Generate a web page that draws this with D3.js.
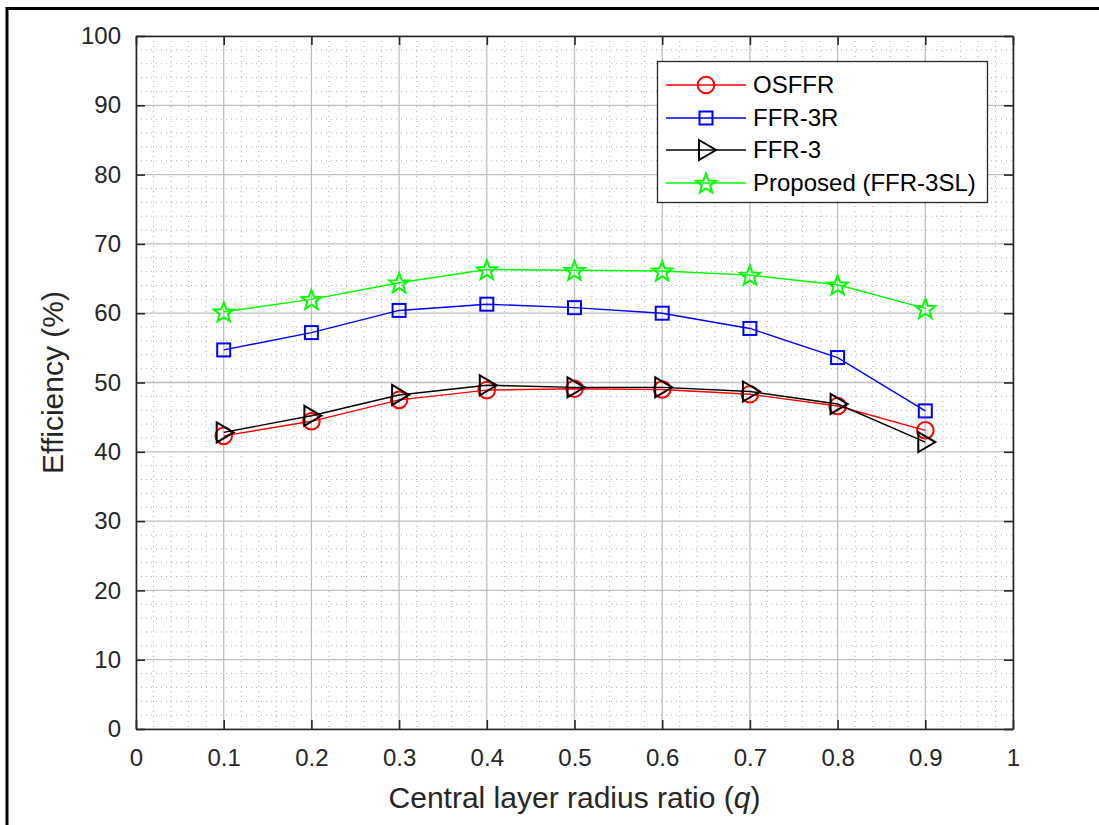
<!DOCTYPE html>
<html><head><meta charset="utf-8">
<script src="https://cdn.jsdelivr.net/npm/d3@7"></script>
<style>
html,body{margin:0;padding:0;background:#fff;}
svg{display:block;font-family:"Liberation Sans",Arial,Helvetica,sans-serif;}
</style></head>
<body>
<script>
const qValues = [0.1,0.2,0.3,0.4,0.5,0.6,0.7,0.8,0.9];
const osffr    = [42.3,44.4,47.5,48.9,49.1,49.0,48.3,46.6,43.1];
const ffr3r    = [54.7,57.2,60.4,61.3,60.8,60.0,57.8,53.6,45.9];
const ffr3     = [42.8,45.2,48.2,49.6,49.3,49.3,48.7,46.9,41.4];
const proposed = [60.2,62.0,64.4,66.3,66.2,66.1,65.5,64.1,60.7];
const seriesNames = ["OSFFR","FFR-3R","FFR-3","Proposed (FFR-3SL)"];
const xTicks = [0,0.1,0.2,0.3,0.4,0.5,0.6,0.7,0.8,0.9,1];
const yTicks = [0,10,20,30,40,50,60,70,80,90,100];

const W=1099,H=825;
const L=136,R=1013,T=36,B=729;
const svg=d3.select("body").append("svg").attr("width",W).attr("height",H);

const x=d3.scaleLinear().domain([0,1]).range([L,R]);
const y=d3.scaleLinear().domain([0,100]).range([B,T]);

// figure frame (top & left)
svg.append("line").attr("x1",6).attr("x2",W).attr("y1",8.5).attr("y2",8.5).attr("stroke","#000").attr("stroke-width",3);
svg.append("line").attr("x1",7).attr("x2",7).attr("y1",7).attr("y2",H).attr("stroke","#000").attr("stroke-width",3);

// minor grid
const g=svg.append("g");
const xMinor=d3.range(0,1.0001,0.02).filter(v=>Math.abs(v*10-Math.round(v*10))>1e-6);
const yMinor=d3.range(0,100.001,2).filter(v=>v%10!==0);
g.selectAll(".mx").data(xMinor).join("line").attr("x1",d=>x(d)).attr("x2",d=>x(d)).attr("y1",T).attr("y2",B)
  .attr("stroke","#b0b0b0").attr("stroke-width",1).attr("stroke-dasharray","1,4");
g.selectAll(".my").data(yMinor).join("line").attr("y1",d=>y(d)).attr("y2",d=>y(d)).attr("x1",L).attr("x2",R)
  .attr("stroke","#b0b0b0").attr("stroke-width",1).attr("stroke-dasharray","1,4");
// major grid
g.selectAll(".gx").data(xTicks).join("line").attr("x1",d=>x(d)).attr("x2",d=>x(d)).attr("y1",T).attr("y2",B)
  .attr("stroke","#c0c0c0").attr("stroke-width",1.3);
g.selectAll(".gy").data(yTicks).join("line").attr("y1",d=>y(d)).attr("y2",d=>y(d)).attr("x1",L).attr("x2",R)
  .attr("stroke","#c0c0c0").attr("stroke-width",1.3);

// axes
const tk=9;
const axB=svg.append("g").attr("transform",`translate(0,${B})`).call(d3.axisBottom(x).tickValues(xTicks).tickFormat(d3.format("")).tickSizeInner(-tk).tickSizeOuter(0).tickPadding(20));
const axT=svg.append("g").attr("transform",`translate(0,${T})`).call(d3.axisTop(x).tickValues(xTicks).tickFormat("").tickSizeInner(-tk).tickSizeOuter(0));
const axL=svg.append("g").attr("transform",`translate(${L},0)`).call(d3.axisLeft(y).tickValues(yTicks).tickSizeInner(-tk).tickSizeOuter(0).tickPadding(15));
const axR=svg.append("g").attr("transform",`translate(${R},0)`).call(d3.axisRight(y).tickValues(yTicks).tickFormat("").tickSizeInner(-tk).tickSizeOuter(0));
[axB,axT,axL,axR].forEach(a=>{
  a.attr("font-size",null).attr("font-family",null);
  a.select(".domain").attr("stroke","#262626").attr("stroke-width",1.6);
  a.selectAll(".tick line").attr("stroke","#262626").attr("stroke-width",1.6);
  a.selectAll("text").attr("fill","#262626").style("font-size","24px");
});

// labels
svg.append("text").attr("x",(L+R)/2).attr("y",808).attr("text-anchor","middle").attr("fill","#262626").style("font-size","30px")
  .html('Central layer radius ratio (<tspan font-style="italic">q</tspan>)');
svg.append("text").attr("transform",`translate(63,${(T+B)/2}) rotate(-90)`).attr("text-anchor","middle").attr("fill","#262626").style("font-size","30px")
  .text("Efficiency (%)");

const colors=["#ff0000","#0000ff","#000000","#00ff00"];
const data=[osffr,ffr3r,ffr3,proposed];

function starPath(r){
  const pts=[];
  for(let i=0;i<10;i++){
    const rr=i%2===0?r:r*0.42;
    const a=-Math.PI/2+i*Math.PI/5;
    pts.push([rr*Math.cos(a),rr*Math.sin(a)]);
  }
  return "M"+pts.map(p=>p[0].toFixed(2)+","+p[1].toFixed(2)).join("L")+"Z";
}
function drawMarker(sel,i,cx,cy){
  const c=colors[i];
  if(i===0) sel.append("circle").attr("cx",cx).attr("cy",cy).attr("r",8.3).attr("fill","none").attr("stroke",c).attr("stroke-width",2);
  else if(i===1) sel.append("rect").attr("x",cx-6.5).attr("y",cy-6.5).attr("width",13).attr("height",13).attr("fill","none").attr("stroke",c).attr("stroke-width",2);
  else if(i===2) sel.append("path").attr("d",`M${cx-7},${cy-10}L${cx+10},${cy}L${cx-7},${cy+10}Z`).attr("fill","none").attr("stroke",c).attr("stroke-width",2);
  else sel.append("path").attr("transform",`translate(${cx},${cy+1})`).attr("d",starPath(10.5)).attr("fill","none").attr("stroke",c).attr("stroke-width",2).attr("stroke-linejoin","miter");
}

const line=d3.line().x((d,i)=>x(qValues[i])).y(d=>y(d));
data.forEach((vals,i)=>{
  const gg=svg.append("g");
  gg.append("path").attr("d",line(vals)).attr("fill","none").attr("stroke",colors[i]).attr("stroke-width",1.4);
  vals.forEach((v,j)=>drawMarker(gg,i,x(qValues[j]),y(v)));
});

// legend
const lg=svg.append("g");
lg.append("rect").attr("x",657.5).attr("y",61.5).attr("width",330).attr("height",141).attr("fill","#fff").attr("stroke","#262626").attr("stroke-width",1.3);
const rowY=[85,118,150,183];
seriesNames.forEach((n,i)=>{
  lg.append("line").attr("x1",666).attr("x2",746).attr("y1",rowY[i]).attr("y2",rowY[i]).attr("stroke",colors[i]).attr("stroke-width",1.4);
  drawMarker(lg,i,706,rowY[i]);
  lg.append("text").attr("x",753).attr("y",rowY[i]).attr("dy","0.35em").attr("fill","#000").style("font-size","24px").text(n);
});
</script>
</body></html>
